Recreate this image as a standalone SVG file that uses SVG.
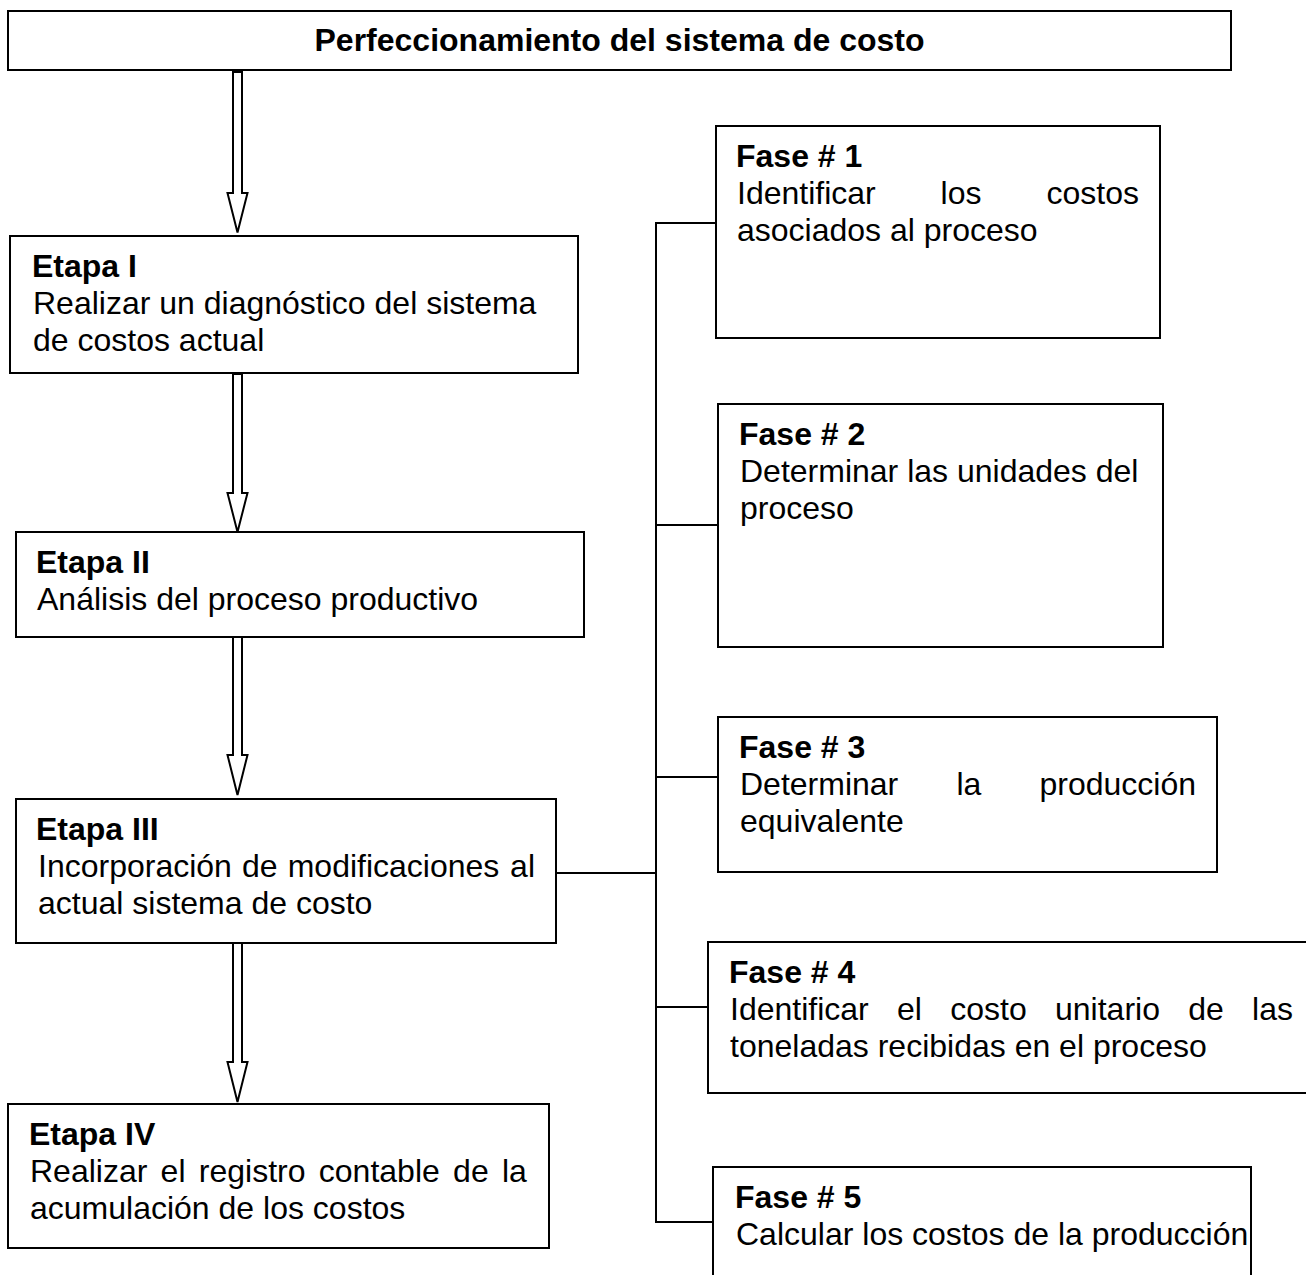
<svg xmlns="http://www.w3.org/2000/svg" width="1306" height="1275" viewBox="0 0 1306 1275">
<style>
.box{fill:#fff;stroke:#000;stroke-width:2}
.ln{fill:none;stroke:#000;stroke-width:2}
.arr{fill:#fff;stroke:#000;stroke-width:2;stroke-linejoin:miter}
text{font-family:"Liberation Sans",Arial,sans-serif;font-size:32px;fill:#000}
.b{font-weight:bold}
.t{font-weight:bold;font-size:32px}
</style>
<rect width="1306" height="1275" fill="#fff"/>
<g id="connectors">
<polygon class="arr" points="233,72 242,72 242,193 247.5,193 237.5,232.5 227.5,193 233,193"/>
<polygon class="arr" points="233,374 242,374 242,493 247.5,493 237.5,532 227.5,493 233,493"/>
<polygon class="arr" points="233,637 242,637 242,755 247.5,755 237.5,795 227.5,755 233,755"/>
<polygon class="arr" points="233,943 242,943 242,1062 247.5,1062 237.5,1102 227.5,1062 233,1062"/>
<polyline class="ln" points="716,223 656,223 656,1222 713,1222"/>
<line class="ln" x1="656" y1="525" x2="718" y2="525"/>
<line class="ln" x1="656" y1="777" x2="718" y2="777"/>
<line class="ln" x1="656" y1="1007" x2="708" y2="1007"/>
<line class="ln" x1="556" y1="873" x2="656" y2="873"/>
</g>
<g id="title">
<rect class="box" x="8" y="11" width="1223" height="59"/>
<text class="t" x="619.5" y="51" text-anchor="middle">Perfeccionamiento del sistema de costo</text>
</g>
<g id="etapa1">
<rect class="box" x="10" y="236" width="568" height="137"/>
<text class="b" x="32" y="277">Etapa I</text>
<text x="33" y="314">Realizar un diagnóstico del sistema</text>
<text x="33" y="351">de costos actual</text>
</g>
<g id="etapa2">
<rect class="box" x="16" y="532" width="568" height="105"/>
<text class="b" x="36" y="573">Etapa II</text>
<text x="37" y="610">Análisis del proceso productivo</text>
</g>
<g id="etapa3">
<rect class="box" x="16" y="799" width="540" height="144"/>
<text class="b" x="36" y="840">Etapa III</text>
<text y="877"><tspan x="38">Incorporación</tspan><tspan x="242">de</tspan><tspan x="287.7">modificaciones</tspan><tspan x="510.1">al</tspan></text>
<text x="38" y="914">actual sistema de costo</text>
</g>
<g id="etapa4">
<rect class="box" x="8" y="1104" width="541" height="144"/>
<text class="b" x="29" y="1145">Etapa IV</text>
<text y="1182"><tspan x="30">Realizar</tspan><tspan x="160.6">el</tspan><tspan x="198.8">registro</tspan><tspan x="318.8">contable</tspan><tspan x="453.1">de</tspan><tspan x="502">la</tspan></text>
<text x="30" y="1219">acumulación de los costos</text>
</g>
<g id="fase1">
<rect class="box" x="716" y="126" width="444" height="212"/>
<text class="b" x="736" y="167">Fase # 1</text>
<text y="204"><tspan x="737">Identificar</tspan><tspan x="940.6">los</tspan><tspan x="1046.5">costos</tspan></text>
<text x="737" y="241">asociados al proceso</text>
</g>
<g id="fase2">
<rect class="box" x="718" y="404" width="445" height="243"/>
<text class="b" x="739" y="445">Fase # 2</text>
<text x="740" y="482">Determinar las unidades del</text>
<text x="740" y="519">proceso</text>
</g>
<g id="fase3">
<rect class="box" x="718" y="717" width="499" height="155"/>
<text class="b" x="739" y="758">Fase # 3</text>
<text y="795"><tspan x="740">Determinar</tspan><tspan x="956.4">la</tspan><tspan x="1039.5">producción</tspan></text>
<text x="740" y="832">equivalente</text>
</g>
<g id="fase4">
<rect class="box" x="708" y="942" width="640" height="151"/>
<text class="b" x="729" y="983">Fase # 4</text>
<text y="1020"><tspan x="730">Identificar</tspan><tspan x="897">el</tspan><tspan x="950.2">costo</tspan><tspan x="1055">unitario</tspan><tspan x="1188.2">de</tspan><tspan x="1252.1">las</tspan></text>
<text x="730" y="1057">toneladas recibidas en el proceso</text>
</g>
<g id="fase5">
<rect class="box" x="713" y="1167" width="538" height="140"/>
<text class="b" x="735" y="1208">Fase # 5</text>
<text x="736" y="1245">Calcular los costos de la producción</text>
</g>
</svg>
